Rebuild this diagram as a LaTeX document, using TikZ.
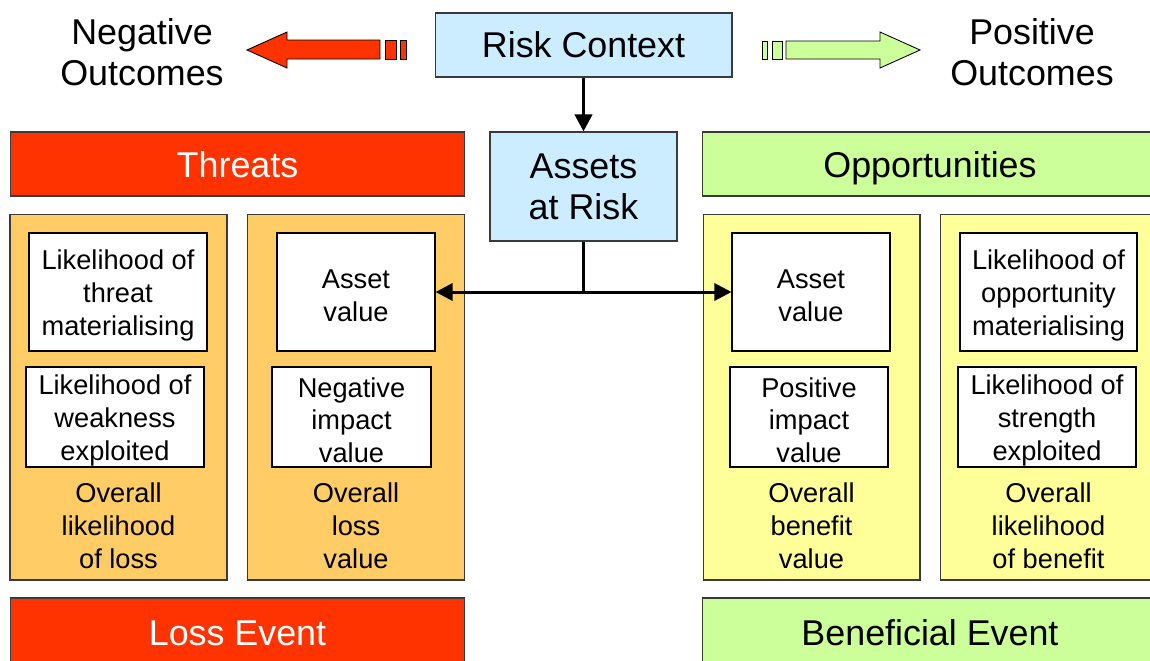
\documentclass[tikz,border=0pt]{standalone}
\usepackage{fontspec}
\setmainfont{Liberation Sans}
\usetikzlibrary{arrows.meta,positioning}
\definecolor{riskblue}{HTML}{CCECFF}
\definecolor{threatred}{HTML}{FF3300}
\definecolor{oppgreen}{HTML}{CCFF99}
\definecolor{lossorange}{HTML}{FFCC66}
\definecolor{gainyellow}{HTML}{FFFF99}
\definecolor{edgegray}{HTML}{3A3A3A}
\newcommand{\topgap}{\rule{0pt}{14.8pt}}
\begin{document}
\begin{tikzpicture}[x=0.02cm, y=-0.02cm,
    big/.style = {font=\fontsize{20.4}{23.5}\selectfont, align=center},
    small/.style = {font=\fontsize{15.5}{18.7}\selectfont, align=center},
    panel/.style = {draw=edgegray, line width=0.6pt, inner sep=0pt},
    head/.style = {panel, font=\fontsize{20.4}{23.5}\selectfont, minimum width=9.1cm, minimum height=1.28cm, text height=19.2pt, text depth=4.3pt},
    event/.style = {panel, font=\fontsize{20.4}{23.5}\selectfont, minimum width=9.1cm, minimum height=1.44cm, text height=16.9pt, text depth=4.3pt},
    col/.style = {panel, minimum width=4.34cm, minimum height=7.32cm},
    inbox/.style = {draw=black, fill=white, line width=0.6pt, inner sep=0pt, small},
    thick arrow/.style = {line width=0.06cm, -{Triangle[length=0.34cm, width=0.34cm]}}]
    \useasboundingbox (0,0) rectangle (1150,660);
    \clip (0,0) rectangle (1150,660);
    \node[panel, big, fill=riskblue, minimum width=5.94cm, minimum height=1.28cm] (context) at (583.5,45) {Risk Context};
    \node[panel, big, fill=riskblue, minimum width=3.74cm, minimum height=2.18cm] (assets) at (583.5,186.5) {Assets\\at Risk};
    \node[big] (neg) at (142,52.5) {Negative\\Outcomes};
    \node[big] (pos) at (1032,52.5) {Positive\\Outcomes};
    \filldraw[fill=threatred, draw=black, line width=0.5pt] (247,50) -- (287,32) -- (287,40) -- (380,40) -- (380,59) -- (287,59) -- (287,68) -- cycle;
    \filldraw[fill=threatred, draw=black, line width=0.5pt] (385,40) rectangle (396,59);
    \filldraw[fill=threatred, draw=black, line width=0.5pt] (400,40) rectangle (406,59);
    \filldraw[fill=oppgreen, draw=black, line width=0.5pt] (786,41) -- (880,41) -- (880,32) -- (920,50) -- (880,68) -- (880,59) -- (786,59) -- cycle;
    \filldraw[fill=oppgreen, draw=black, line width=0.5pt] (772,41) rectangle (782,59);
    \filldraw[fill=oppgreen, draw=black, line width=0.5pt] (762,41) rectangle (767,59);
    \node[head, fill=threatred, text=white] (threats) at (237.5,164) {Threats};
    \node[head, fill=oppgreen] (opps) at (930,164) {Opportunities};
    \node[col, fill=lossorange] (c1) at (118.5,397) {};
    \node[col, fill=lossorange] (c2) at (356,397) {};
    \node[col, fill=gainyellow] (c3) at (811.5,397) {};
    \node[col, fill=gainyellow] (c4) at (1048.5,397) {};
    \node[inbox, minimum width=3.56cm, minimum height=2.36cm] (a1) at (118,292) {\topgap Likelihood of\\threat\\materialising};
    \node[inbox, minimum width=3.16cm, minimum height=2.36cm] (a2) at (356,292) {\topgap Asset\\value};
    \node[inbox, minimum width=3.16cm, minimum height=2.36cm] (a3) at (811,292) {\topgap Asset\\value};
    \node[inbox, minimum width=3.54cm, minimum height=2.36cm] (a4) at (1048.5,292) {\topgap Likelihood of\\opportunity\\materialising};
    \node[inbox, minimum width=3.56cm, minimum height=2cm] (b1) at (115,417) {\topgap Likelihood of\\weakness\\exploited};
    \node[inbox, minimum width=3.18cm, minimum height=2cm] (b2) at (351.5,417) {\topgap Negative\\impact\\value};
    \node[inbox, minimum width=3.16cm, minimum height=2cm] (b3) at (809,417) {\topgap Positive\\impact\\value};
    \node[inbox, minimum width=3.56cm, minimum height=2cm] (b4) at (1047,417) {\topgap Likelihood of\\strength\\exploited};
    \node[small] (o1) at (118.5,526) {Overall\\likelihood\\of loss};
    \node[small] (o2) at (356,526) {Overall\\loss\\value};
    \node[small] (o3) at (811.5,526) {Overall\\benefit\\value};
    \node[small] (o4) at (1048.5,526) {Overall\\likelihood\\of benefit};
    \node[event, fill=threatred, text=white] (loss) at (237.5,634) {Loss Event};
    \node[event, fill=oppgreen] (gain) at (930,634) {Beneficial Event};
    \draw[thick arrow, line width=0.075cm] (context) -- (assets);
    \draw[line width=0.06cm] (assets) -- (assets |- a2);
    \draw[thick arrow, {Triangle[length=0.34cm, width=0.34cm]}-{Triangle[length=0.34cm, width=0.34cm]}] (a2) -- (a3);
\end{tikzpicture}
\end{document}
